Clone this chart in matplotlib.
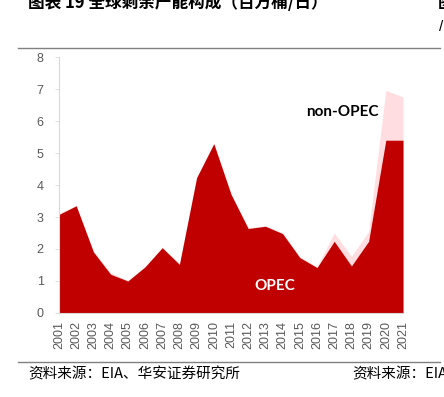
import numpy as np
import matplotlib.pyplot as plt
from matplotlib.lines import Line2D

plt.rcParams['font.family'] = ['Liberation Sans', 'Noto Sans CJK SC', 'DejaVu Sans']

years = list(range(2001, 2022))
opec = [3.08, 3.35, 1.91, 1.21, 1.00, 1.44, 2.04, 1.52, 4.23, 5.29, 3.71,
        2.64, 2.71, 2.48, 1.73, 1.42, 2.24, 1.47, 2.24, 5.40, 5.40]
total = [3.12, 3.36, 1.93, 1.26, 1.02, 1.46, 2.06, 1.54, 4.25, 5.31, 3.73,
         2.66, 2.73, 2.50, 1.76, 1.45, 2.50, 1.77, 2.55, 6.96, 6.75]

red = '#C00000'
pink = '#FFDDE0'

fig = plt.figure(figsize=(4.44, 3.97), dpi=100)
ax = fig.add_axes([0.1329, 0.2116, 0.7748, 0.6448])

ax.fill_between(years, 0, total, color=pink, lw=0)
ax.fill_between(years, 0, opec, color=red, lw=0)

ax.set_xlim(2001, 2021)
ax.set_ylim(0, 8)
ax.set_yticks(range(0, 9))
ax.set_xticks(years)
ax.set_xticklabels([str(y) for y in years], rotation=90)
ax.tick_params(axis='both', labelsize=9, colors='#595959', length=3, width=0.6)
ax.tick_params(axis='x', length=0, pad=6)
ax.tick_params(axis='y', color='#D9D9D9', pad=8)
for s in ['top', 'right']:
    ax.spines[s].set_visible(False)
for s in ['left', 'bottom']:
    ax.spines[s].set_color('#D9D9D9')
    ax.spines[s].set_linewidth(0.8)

ax.text(2017.5, 6.28, 'non-OPEC', fontsize=11, fontweight='bold', color='black',
        ha='center', va='center', family=['Lato', 'DejaVu Sans'])
ax.text(2013.55, 0.85, 'OPEC', fontsize=11, fontweight='bold', color='white',
        ha='center', va='center', family=['Lato', 'DejaVu Sans'])

# header / footer of the report page
fig.text(28 / 444, 1 - 3 / 397, '图表 19 全球剩余产能构成（百万桶/日）', fontsize=12,
         fontweight='bold', va='center', ha='left',
         family=['Noto Sans CJK SC', 'DejaVu Sans'])
fig.text(438 / 444, 1 - 3 / 397, '图', fontsize=12, fontweight='bold',
         va='center', ha='left', family=['Noto Sans CJK SC', 'DejaVu Sans'])
fig.text(439 / 444, 1 - 27 / 397, '/', fontsize=11, va='center', ha='left')
fig.add_artist(Line2D([18 / 444, 440 / 444], [1 - 48 / 397, 1 - 48 / 397],
                      color='#808080', lw=1.0))
fig.add_artist(Line2D([18 / 444, 440 / 444], [1 - 362 / 397, 1 - 362 / 397],
                      color='#808080', lw=1.0))
fig.text(28 / 444, 1 - 374 / 397, '资料来源：EIA、华安证券研究所', fontsize=10.5,
         va='center', ha='left', family=['Noto Sans CJK SC', 'DejaVu Sans'])
fig.text(352 / 444, 1 - 374 / 397, '资料来源：EIA', fontsize=10.5,
         va='center', ha='left', family=['Noto Sans CJK SC', 'DejaVu Sans'])

fig.savefig('out.png', dpi=100)
